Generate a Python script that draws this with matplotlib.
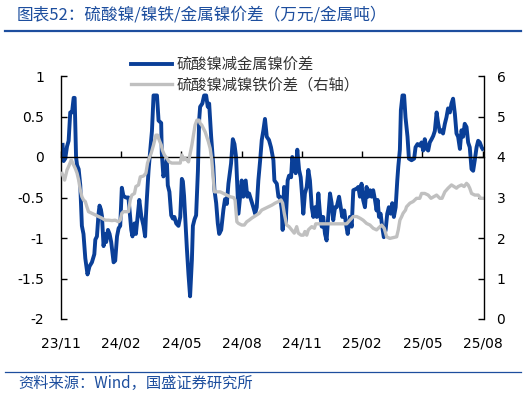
import matplotlib
matplotlib.use("Agg")
import matplotlib.pyplot as plt
from matplotlib.lines import Line2D

# -----------------------------
# data (x = months since 2023-11)
# -----------------------------
BLUE_M = [0.08, 0.13, 0.21, 0.30, 0.38, 0.46, 0.55, 0.63, 0.68, 0.75, 0.80, 0.88, 0.96, 1.04, 1.12,
          1.21, 1.32, 1.42, 1.54, 1.66, 1.71, 1.79, 1.87, 1.92, 1.99, 2.04, 2.12, 2.20, 2.25, 2.34,
          2.42, 2.50, 2.62, 2.70, 2.79, 2.87, 2.95, 3.03, 3.11, 3.23, 3.36, 3.50, 3.56, 3.66, 3.73,
          3.83, 3.90, 4.00, 4.11, 4.19, 4.23, 4.28, 4.36, 4.44, 4.53, 4.61, 4.78, 4.86, 4.99, 5.02,
          5.10, 5.19, 5.27, 5.32, 5.40, 5.49, 5.57, 5.65, 5.74, 5.85, 5.94, 6.02, 6.07, 6.13, 6.18,
          6.27, 6.35, 6.43, 6.52, 6.57, 6.65, 6.73, 6.82, 6.88, 6.93, 7.04, 7.13, 7.23, 7.31, 7.38,
          7.48, 7.59, 7.64, 7.73, 7.81, 7.88, 7.98, 8.09, 8.17, 8.26, 8.34, 8.47, 8.56, 8.64, 8.72,
          8.84, 9.00, 9.08, 9.20, 9.28, 9.37, 9.47, 9.58, 9.67, 9.75, 9.83, 9.92, 10.00, 10.08, 10.16,
          10.25, 10.36, 10.46, 10.58, 10.63, 10.75, 10.83, 10.91, 11.00, 11.04, 11.11, 11.19, 11.29,
          11.36, 11.46, 11.52, 11.61, 11.69, 11.77, 11.86, 11.94, 11.99, 12.07, 12.15, 12.24, 12.32,
          12.40, 12.49, 12.57, 12.65, 12.74, 12.82, 12.90, 12.99, 13.06, 13.15, 13.23, 13.31, 13.40,
          13.48, 13.56, 13.65, 13.73, 13.85, 13.90, 14.01, 14.11, 14.19, 14.28, 14.39, 14.48, 14.56,
          14.73, 14.81, 14.89, 14.97, 15.05, 15.14, 15.22, 15.30, 15.39, 15.47, 15.55, 15.64, 15.72,
          15.77, 15.84, 15.92, 16.00, 16.08, 16.17, 16.25, 16.33, 16.42, 16.50, 16.58, 16.67, 16.75,
          16.80, 16.88, 16.93, 17.01, 17.09, 17.16, 17.26, 17.33, 17.46, 17.59, 17.66, 17.76, 17.87,
          17.96, 18.04, 18.12, 18.21, 18.29, 18.37, 18.46, 18.54, 18.62, 18.71, 18.79, 18.87, 18.96,
          19.03, 19.12, 19.20, 19.28, 19.37, 19.45, 19.53, 19.62, 19.70, 19.78, 19.87, 19.95, 20.03,
          20.11, 20.20, 20.28, 20.36, 20.45, 20.53, 20.61, 20.70, 20.78, 20.86, 20.95, 21.00]
BLUE_V = [0.15, -0.05, -0.02, 0.13, 0.20, 0.55, 0.55, 0.73, 0.73, 0.00, -0.10, -0.15, -0.35, -0.85, -0.95,
          -1.25, -1.45, -1.35, -1.30, -1.20, -1.02, -0.98, -0.70, -0.60, -0.65, -0.73, -1.10, -0.95, -1.05, -0.90,
          -0.95, -1.05, -1.30, -1.28, -0.98, -0.88, -0.85, -0.38, -0.48, -0.50, -0.50, -0.90, -0.98, -0.82, -0.95,
          -0.70, -0.53, -0.73, -0.85, -0.98, -0.73, -0.50, -0.17, 0.07, 0.32, 0.76, 0.76, 0.45, 0.42, 0.05,
          -0.24, -0.15, -0.03, -0.35, -0.43, -0.72, -0.76, -0.74, -0.82, -0.85, -0.74, -0.27, -0.30, -0.48, -0.72,
          -1.13, -1.45, -1.72, -1.27, -0.85, -0.77, -0.72, -0.17, 0.45, 0.62, 0.66, 0.76, 0.76, 0.62, 0.66,
          0.25, -0.12, -0.40, -0.57, -0.82, -0.95, -0.90, -0.65, -0.52, -0.58, -0.33, -0.08, 0.22, 0.16, 0.00,
          -0.70, -0.29, -0.49, -0.29, -0.49, -0.45, -0.53, -0.62, -0.70, -0.62, -0.29, -0.04, 0.21, 0.33, 0.47,
          0.25, 0.21, 0.12, -0.04, -0.29, -0.33, -0.49, -0.49, -0.66, -0.90, -0.37, -0.82, -0.29,
          -0.23, -0.25, 0.00, -0.12, -0.20, 0.09, -0.16, -0.25, -0.41, -0.70, -0.45, -0.37, -0.16,
          -0.29, -0.62, -0.74, -0.62, -0.74, -0.45, -0.70, -0.86, -0.74, -0.95, -1.03, -0.74, -0.45,
          -0.57, -0.78, -0.62, -0.62, -0.49, -0.57, -0.74, -0.66, -0.82, -0.95, -0.74, -0.86, -0.41,
          -0.39, -0.37, -0.49, -0.33, -0.53, -0.62, -0.37, -0.49, -0.41, -0.49, -0.41, -0.53, -0.66,
          -0.53, -0.74, -0.70, -0.86, -0.99, -0.90, -0.70, -0.62, -0.70, -0.57, -0.74, -0.62, -0.29,
          -0.12, 0.09, 0.58, 0.76, 0.76, 0.49, 0.25, -0.02, -0.04, -0.02, 0.12, 0.16, 0.14,
          0.18, 0.08, 0.22, 0.10, 0.08, 0.18, 0.22, 0.26, 0.32, 0.55, 0.41, 0.31, 0.33,
          0.29, 0.41, 0.49, 0.60, 0.55, 0.66, 0.72, 0.53, 0.29, 0.25, 0.10, 0.33, 0.25,
          0.41, 0.37, 0.18, 0.12, -0.15, -0.17, -0.04, 0.12, 0.20, 0.18, 0.12, 0.10]

GRAY_M = [0.05, 0.18, 0.30, 0.41, 0.51, 0.63, 0.71, 0.80, 0.88, 0.96, 1.04, 1.12, 1.21, 1.29, 1.37,
          1.54, 1.71, 1.87, 2.04, 2.20, 2.37, 2.54, 2.70, 2.87, 2.95, 3.03, 3.11, 3.36, 3.45, 3.53,
          3.66, 3.73, 3.86, 3.95, 4.11, 4.23, 4.31, 4.39, 4.49, 4.61, 4.73, 4.81, 4.89, 4.99, 5.05,
          5.15, 5.27, 5.39, 5.52, 5.94, 6.02, 6.10, 6.18, 6.27, 6.35, 6.52, 6.60, 6.68, 6.77, 6.88,
          6.93, 7.01, 7.09, 7.18, 7.26, 7.34, 7.43, 7.51, 7.59, 7.64, 7.93, 8.09, 8.26, 8.42, 8.59,
          8.67, 8.76, 8.84, 9.00, 9.13, 9.25, 9.37, 9.50, 9.63, 9.75, 9.87, 10.00, 10.16, 10.33, 10.50,
          10.66, 10.83, 10.96, 11.04, 11.12, 11.24, 11.36, 11.49, 11.62, 11.74, 11.82, 11.96, 12.07,
          12.15, 12.24, 12.32, 12.40, 12.49, 12.62, 12.69, 14.23, 14.39, 14.56, 14.73, 14.89, 15.05,
          15.22, 15.39, 15.55, 15.72, 15.89, 15.97, 16.10, 16.22, 16.38, 16.72, 16.80, 16.88, 16.97,
          17.04, 17.16, 17.21, 17.38, 17.54, 17.71, 17.87, 17.96, 18.12, 18.29, 18.43, 18.71, 18.87,
          18.98, 19.12, 19.28, 19.45, 19.58, 19.70, 19.78, 19.95, 20.08, 20.20, 20.28, 20.36, 20.45,
          20.61, 20.78, 20.91, 21.03]
GRAY_V = [3.60, 3.43, 3.68, 3.80, 3.93, 3.80, 3.72, 3.60, 3.43, 3.19, 3.02, 2.94, 2.90, 2.77, 2.65,
          2.61, 2.57, 2.53, 2.49, 2.44, 2.44, 2.43, 2.44, 2.40, 2.44, 2.61, 2.65, 2.65, 2.94, 3.06,
          3.10, 3.27, 3.31, 3.51, 3.53, 3.60, 3.85, 3.97, 4.09, 4.30, 4.54, 4.54, 4.42, 4.30, 4.17,
          4.05, 3.97, 3.88, 3.85, 3.85, 4.05, 3.93, 3.97, 3.93, 3.88, 4.30, 4.54, 4.79, 4.91, 4.91,
          4.83, 4.79, 4.71, 4.62, 4.50, 4.38, 4.21, 3.93, 3.43, 3.14, 3.14, 3.10, 3.06, 3.02, 3.00,
          2.94, 2.40, 2.36, 2.32, 2.32, 2.40, 2.44, 2.49, 2.53, 2.57, 2.61, 2.69, 2.73, 2.77, 2.81,
          2.86, 2.90, 2.94, 2.86, 2.61, 2.32, 2.28, 2.20, 2.12, 2.28, 2.12, 2.07, 2.07,
          2.16, 2.07, 2.20, 2.24, 2.28, 2.24, 2.35, 2.35, 2.44, 2.53, 2.53, 2.49, 2.44,
          2.36, 2.32, 2.24, 2.20, 2.28, 2.32, 2.24, 2.03, 1.99, 2.03, 2.20, 2.44, 2.53,
          2.61, 2.69, 2.77, 2.86, 2.90, 2.98, 2.98, 3.10, 3.10, 3.06, 2.98, 3.06, 2.98,
          2.98, 3.14, 3.23, 3.31, 3.27, 3.23, 3.27, 3.31, 3.27, 3.35, 3.31, 3.23, 3.10,
          3.06, 3.06, 2.98, 2.98]

TICK_M = [0, 3, 6, 9, 12, 15, 18, 21]
TICK_LABELS = ["23/11", "24/02", "24/05", "24/08", "24/11", "25/02", "25/05", "25/08"]
LEFT_TICKS = [1, 0.5, 0, -0.5, -1, -1.5, -2]
RIGHT_TICKS = [0, 1, 2, 3, 4, 5, 6]

TITLE = "图表52：硫酸镍/镍铁/金属镍价差（万元/金属吨）"
SOURCE = "资料来源：Wind，国盛证券研究所"
NAME_BLUE = "硫酸镍减金属镍价差"
NAME_GRAY = "硫酸镍减镍铁价差（右轴）"

BLUE = "#0a3f98"
GRAY = "#c0c0c0"
HEAD = "#1d4e9e"
CJK = ["Noto Sans CJK SC", "DejaVu Sans"]

# -----------------------------
# figure
# -----------------------------
W, H = 526, 398
fig = plt.figure(figsize=(W / 100, H / 100), dpi=100)
ax = fig.add_axes([61 / W, 1 - 319 / H, (484 - 61) / W, (319 - 76) / H])
ax2 = ax.twinx()

ax.plot(BLUE_M, BLUE_V, color=BLUE, lw=2.8, solid_joinstyle="round")
ax2.plot(GRAY_M, GRAY_V, color=GRAY, lw=2.4, solid_joinstyle="round")

ax.set_xlim(0, 21.07)
ax.set_ylim(-2, 1)
ax2.set_ylim(0, 6)

for a in (ax, ax2):
    a.spines["top"].set_visible(False)
ax.spines["right"].set_visible(False)
ax2.spines["left"].set_visible(False)
ax2.spines["bottom"].set_visible(False)
ax.spines["bottom"].set_position(("data", 0))
ax.spines["bottom"].set_linewidth(1.0)
ax.spines["left"].set_linewidth(1.0)
ax2.spines["right"].set_linewidth(1.0)

ax.set_yticks(LEFT_TICKS)
ax.set_yticklabels([f"{v:g}" for v in LEFT_TICKS])
ax2.set_yticks(RIGHT_TICKS)
ax.set_xticks(TICK_M)
ax.set_xticklabels(TICK_LABELS)

ax.tick_params(axis="y", direction="in", length=4, width=1, labelsize=10, pad=12, colors="#000000")
ax2.tick_params(axis="y", direction="in", length=4, width=1, labelsize=10, pad=9)
ax.tick_params(axis="x", direction="in", length=4, width=1, labelsize=10, pad=129)

# legend
handles = [Line2D([], [], color=BLUE, lw=2.8), Line2D([], [], color=GRAY, lw=2.4)]
fig.legend(handles, [NAME_BLUE, NAME_GRAY], loc="upper left",
           bbox_to_anchor=(131 / W, 1 - 56 / H), frameon=False,
           prop={"family": CJK, "size": 11}, handlelength=2.7, handletextpad=0.25,
           labelspacing=0.2, borderpad=0, borderaxespad=0, labelcolor="#333333")

# title, rules and source
fig.text(17 / W, 1 - 15 / H, TITLE, family=CJK, fontsize=12, color=HEAD, va="center", ha="left")
fig.add_artist(Line2D([5 / W, 521 / W], [1 - 31 / H] * 2, color=HEAD, lw=1.6))
fig.add_artist(Line2D([5 / W, 521 / W], [1 - 372 / H] * 2, color=HEAD, lw=0.9))
fig.text(18 / W, 1 - 383 / H, SOURCE, family=CJK, fontsize=11, color=HEAD, va="center", ha="left")

fig.savefig("out.png", dpi=100)
